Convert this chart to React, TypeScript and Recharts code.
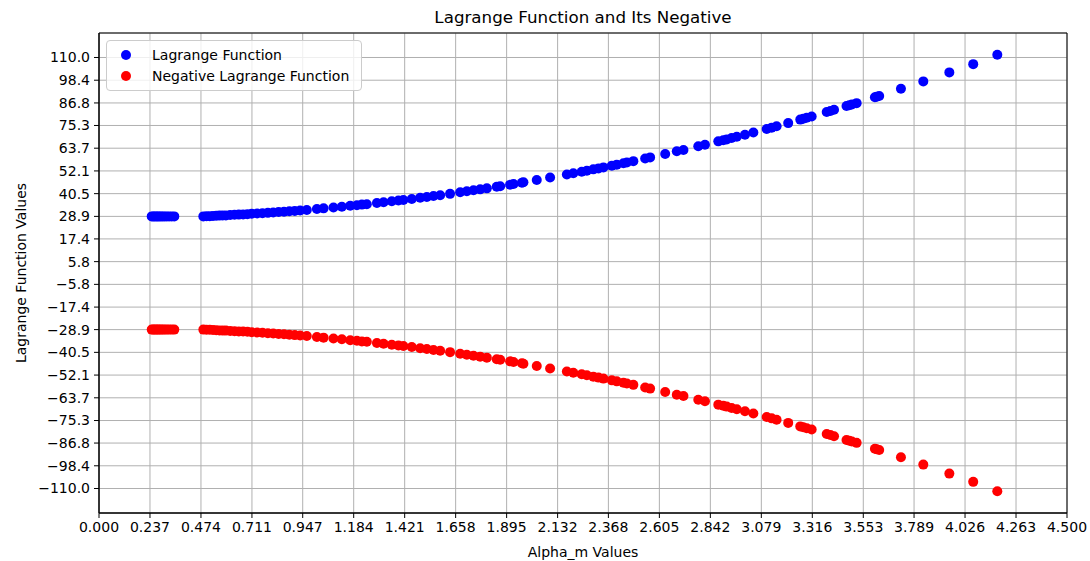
import {
  ScatterChart, Scatter, XAxis, YAxis, CartesianGrid,
  Legend, ReferenceArea,
} from 'recharts'

const FONT = '"DejaVu Sans", Verdana, sans-serif'

const ALPHA_M = [
  0.245, 0.252, 0.259, 0.266, 0.273, 0.28, 0.288, 0.296, 0.305, 0.315, 0.326, 0.338, 0.35,
  0.485, 0.5, 0.515, 0.53, 0.545, 0.56, 0.575, 0.59, 0.61, 0.63, 0.65, 0.67, 0.69, 0.71,
  0.735, 0.76, 0.785, 0.81, 0.835, 0.86, 0.885, 0.91, 0.935, 0.966, 1.013, 1.044, 1.09,
  1.129, 1.168, 1.199, 1.222, 1.245, 1.292, 1.323, 1.361, 1.392, 1.415, 1.454, 1.493,
  1.524, 1.555, 1.586, 1.632, 1.679, 1.71, 1.741, 1.772, 1.803, 1.849, 1.865, 1.911,
  1.927, 1.966, 1.973, 2.035, 2.097, 2.175, 2.205, 2.244, 2.268, 2.298, 2.322, 2.345,
  2.384, 2.407, 2.438, 2.454, 2.484, 2.539, 2.562, 2.632, 2.686, 2.717, 2.786, 2.817,
  2.879, 2.902, 2.918, 2.941, 2.965, 3.003, 3.042, 3.104, 3.127, 3.15, 3.204, 3.26,
  3.274, 3.29, 3.313, 3.383, 3.4, 3.417, 3.475, 3.488, 3.5, 3.522, 3.607, 3.615, 3.627,
  3.728, 3.832, 3.953, 4.064, 4.176,
]

const LAGRANGE = [
  28.9, 28.9, 28.9, 28.9, 28.9, 28.9, 28.9, 28.9, 28.9, 28.9, 28.9, 28.9, 28.9,
  28.9, 29.0, 29.0, 29.1, 29.2, 29.3, 29.4, 29.4, 29.6, 29.7, 29.8, 29.9, 30.0, 30.2,
  30.4, 30.5, 30.7, 30.9, 31.1, 31.3, 31.5, 31.7, 31.9, 32.2, 32.7, 33.0, 33.4,
  33.8, 34.3, 34.6, 34.9, 35.1, 35.7, 36.1, 36.6, 37.0, 37.3, 37.8, 38.4,
  38.8, 39.3, 39.7, 40.4, 41.2, 41.7, 42.2, 42.7, 43.2, 44.0, 44.3, 45.1,
  45.4, 46.1, 46.3, 47.5, 48.7, 50.3, 50.9, 51.7, 52.2, 52.9, 53.4, 53.9,
  54.8, 55.3, 56.0, 56.4, 57.1, 58.4, 59.0, 60.7, 62.1, 62.8, 64.7, 65.5,
  67.2, 67.8, 68.2, 68.9, 69.5, 70.6, 71.7, 73.5, 74.2, 74.9, 76.5, 78.3,
  78.7, 79.2, 79.9, 82.2, 82.7, 83.3, 85.2, 85.6, 86.0, 86.7, 89.7, 90.0, 90.3,
  94.0, 97.8, 102.4, 106.6, 111.4,
]

const NEG_LAGRANGE = [
  -28.9, -28.9, -28.9, -28.9, -28.9, -28.9, -28.9, -28.9, -28.9, -28.9, -28.9, -28.9, -28.9,
  -28.9, -29.0, -29.0, -29.1, -29.2, -29.3, -29.4, -29.4, -29.6, -29.7, -29.8, -29.9, -30.0, -30.2,
  -30.4, -30.5, -30.7, -30.9, -31.1, -31.3, -31.5, -31.7, -31.9, -32.2, -32.7, -33.0, -33.4,
  -33.8, -34.3, -34.6, -34.9, -35.1, -35.7, -36.1, -36.6, -37.0, -37.3, -37.8, -38.4,
  -38.8, -39.3, -39.7, -40.4, -41.2, -41.7, -42.2, -42.7, -43.2, -44.0, -44.3, -45.1,
  -45.4, -46.1, -46.3, -47.5, -48.7, -50.3, -50.9, -51.7, -52.2, -52.9, -53.4, -53.9,
  -54.8, -55.3, -56.0, -56.4, -57.1, -58.4, -59.0, -60.7, -62.1, -62.8, -64.7, -65.5,
  -67.2, -67.8, -68.2, -68.9, -69.5, -70.6, -71.7, -73.5, -74.2, -74.9, -76.5, -78.3,
  -78.7, -79.2, -79.9, -82.2, -82.7, -83.3, -85.2, -85.6, -86.0, -86.7, -89.7, -90.0, -90.3,
  -94.0, -97.8, -102.4, -106.6, -111.4,
]

const X_TICKS = [
  0, 0.237, 0.474, 0.711, 0.947, 1.184, 1.421, 1.658, 1.895, 2.132,
  2.368, 2.605, 2.842, 3.079, 3.316, 3.553, 3.789, 4.026, 4.263, 4.5,
]

const Y_TICKS = [
  -110, -98.4, -86.8, -75.3, -63.7, -52.1, -40.5, -28.9, -17.4, -5.8,
  5.8, 17.4, 28.9, 40.5, 52.1, 63.7, 75.3, 86.8, 98.4, 110,
]

const X_DOMAIN = [0, 4.5]
const Y_DOMAIN = [-122.5, 122.5]

const blueData = ALPHA_M.map((x, i) => ({ x, y: LAGRANGE[i] }))
const redData = ALPHA_M.map((x, i) => ({ x, y: NEG_LAGRANGE[i] }))

const fmtY = (v: number) => (v < 0 ? '\u2212' + Math.abs(v).toFixed(1) : v.toFixed(1))

function dot(color: string) {
  return (props: any) => <circle cx={props.cx} cy={props.cy} r={5} fill={color} />
}

function LegendBox({ payload }: any) {
  return (
    <div
      style={{
        width: 254, height: 46, border: '1px solid #cccccc', borderRadius: 4,
        background: 'rgba(255,255,255,0.8)', fontFamily: FONT, fontSize: 14,
        color: '#000', paddingTop: 3, boxSizing: 'content-box',
      }}
    >
      {(payload || []).map((p: any) => (
        <div key={p.value} style={{ display: 'flex', alignItems: 'center', height: 21.4 }}>
          <svg width={10} height={10} style={{ marginLeft: 14 }}>
            <circle cx={5} cy={5} r={5} fill={p.color} />
          </svg>
          <span style={{ marginLeft: 21 }}>{p.value}</span>
        </div>
      ))}
    </div>
  )
}

export default function App() {
  const tickStyle = { fontSize: 14, fill: '#000', fontFamily: FONT }
  return (
    <div style={{ position: 'absolute', left: 0, top: 0, width: 1090, height: 561, background: '#fff' }}>
      <div
        style={{
          position: 'absolute', left: 99, width: 968, top: 7, textAlign: 'center',
          fontFamily: FONT, fontSize: 16.7, color: '#000',
        }}
      >
        Lagrange Function and Its Negative
      </div>
      <ScatterChart width={1090} height={561} margin={{ top: 33, right: 23, bottom: 0, left: 0 }}>
        <CartesianGrid stroke="#b0b0b0" strokeWidth={1} />
        <XAxis
          type="number"
          dataKey="x"
          domain={X_DOMAIN}
          ticks={X_TICKS}
          interval={0}
          allowDataOverflow
          height={48}
          tickFormatter={(v: number) => v.toFixed(3)}
          tick={tickStyle}
          tickSize={5}
          tickMargin={4}
          stroke="#000"
          label={{
            value: 'Alpha_m Values', position: 'insideBottom', offset: 4,
            style: { fontSize: 14, fill: '#000', fontFamily: FONT },
          }}
        />
        <YAxis
          type="number"
          dataKey="y"
          domain={Y_DOMAIN}
          ticks={Y_TICKS}
          interval={0}
          allowDataOverflow
          width={99}
          tickFormatter={fmtY}
          tick={tickStyle}
          tickSize={5}
          tickMargin={4}
          stroke="#000"
          label={{
            content: ({ viewBox }: any) => {
              const cx = viewBox.x + 21
              const cy = viewBox.y + viewBox.height / 2
              return (
                <text
                  x={cx}
                  y={cy}
                  transform={`rotate(-90 ${cx} ${cy})`}
                  textAnchor="middle"
                  dominantBaseline="central"
                  style={{ fontSize: 14, fill: '#000', fontFamily: FONT }}
                >
                  Lagrange Function Values
                </text>
              )
            },
          }}
        />
        <ReferenceArea
          x1={X_DOMAIN[0]} x2={X_DOMAIN[1]} y1={Y_DOMAIN[0]} y2={Y_DOMAIN[1]}
          fill="none" fillOpacity={0} stroke="#000" strokeWidth={1}
        />
        <Legend
          layout="vertical"
          align="center"
          verticalAlign="middle"
          content={<LegendBox />}
          wrapperStyle={{ left: 106, top: 40, right: 'auto', bottom: 'auto', width: 256, height: 48 }}
        />
        <Scatter name="Lagrange Function" data={blueData} fill="#0000ff" shape={dot('#0000ff')} isAnimationActive={false} />
        <Scatter name="Negative Lagrange Function" data={redData} fill="#ff0000" shape={dot('#ff0000')} isAnimationActive={false} />
      </ScatterChart>
    </div>
  )
}
